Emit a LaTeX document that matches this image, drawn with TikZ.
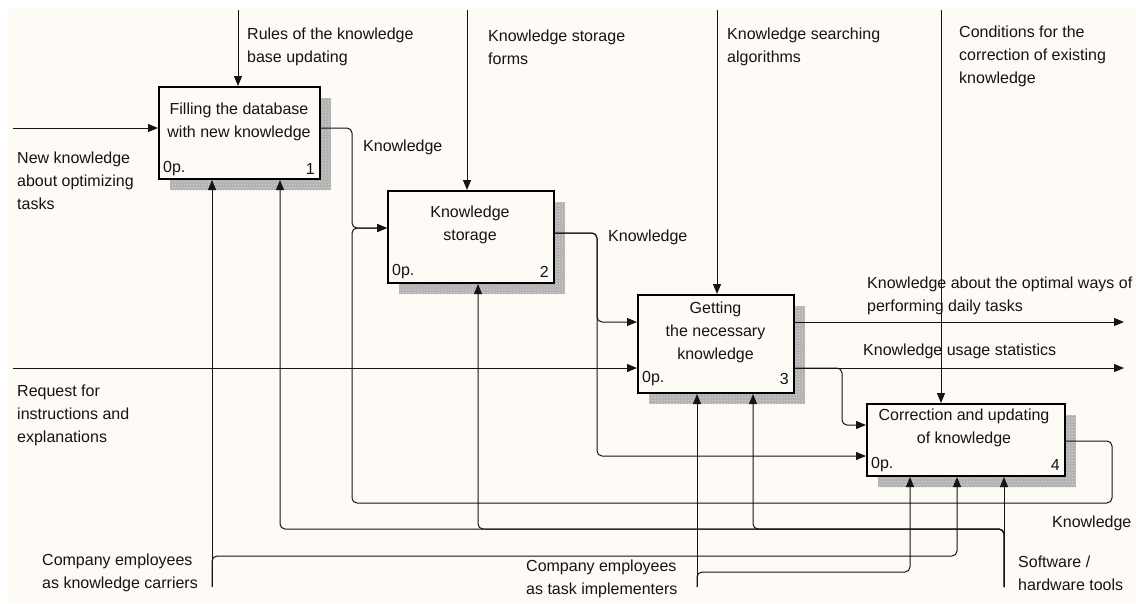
\documentclass[tikz,border=0pt]{standalone}
\usepackage{fontspec}
\setmainfont{Liberation Sans}
\usetikzlibrary{arrows.meta,patterns,backgrounds}
\definecolor{bg}{RGB}{254,251,246}
\definecolor{ink}{RGB}{20,20,20}
\begin{document}
\begin{tikzpicture}[x=1pt,y=-1pt,
  font=\fontsize{16}{23}\selectfont,
  box/.style={draw=black, line width=2pt, fill=bg, inner sep=0pt},
  shadebase/.style={fill=gray!62},
  shade/.style={pattern=crosshatch dots, pattern color=white!75!gray},
  conn/.style={draw=ink, line width=1pt, rounded corners=5pt},
  arr/.style={conn, -{Triangle[length=10pt,width=8pt]}},
  lbl/.style={anchor=west, align=left, inner sep=0pt, text=ink},
  ttl/.style={align=center, inner sep=0pt, text=ink},
  tag/.style={inner sep=0pt, text=ink}]
\useasboundingbox (0,0) rectangle (1136,603);

% ---------- boxes ----------
\node[box, minimum width=161pt, minimum height=92pt] (b1) at (239.5,133) {};
\node[box, minimum width=166pt, minimum height=92pt] (b2) at (471,237) {};
\node[box, minimum width=156pt, minimum height=98pt] (b3) at (716,344) {};
\node[box, minimum width=198pt, minimum height=72pt] (b4) at (966,440) {};

\begin{scope}[on background layer]
  \fill[white] (0,0) rectangle (1136,603);
  \fill[bg] (7,9) rectangle (1136,603);
  \foreach \a/\b/\c/\d in {170/98/331/190, 399/202/565/294, 649/306/805/404, 878/415/1076/487}{
    \fill[shadebase] (\a,\b) rectangle (\c,\d);
    \fill[shade] (\a,\b) rectangle (\c,\d);
  }
\end{scope}

% box texts
\node[ttl] (t1) at (239,121.5) {Filling the database\\with new knowledge};
\node[tag, anchor=west] (p1) at (163,169) {0p.};
\node[tag, anchor=east] (n1) at (315,169) {1};
\node[ttl] (t2) at (470,225) {Knowledge\\storage};
\node[tag, anchor=west] (p2) at (392,272) {0p.};
\node[tag, anchor=east] (n2) at (549,272) {2};
\node[ttl] (t3) at (715.5,332) {Getting\\the necessary\\knowledge};
\node[tag, anchor=west] (p3) at (642,379) {0p.};
\node[tag, anchor=east] (n3) at (789,379) {3};
\node[ttl] (t4) at (964,427.5) {Correction and updating\\of knowledge};
\node[tag, anchor=west] (p4) at (871,465) {0p.};
\node[tag, anchor=east] (n4) at (1060,465) {4};

% ---------- free ends ----------
\coordinate (c1) at (238,10);
\coordinate (c2) at (467,10);
\coordinate (c3) at (717,10);
\coordinate (c4) at (941,10);
\coordinate (i1) at (13,128);
\coordinate (i2) at (13,368);
\coordinate (o1) at (1124,322);
\coordinate (o2) at (1124,368);
\coordinate (m1) at (212,587);
\coordinate (m2) at (697,587);
\coordinate (m3) at (1004,587);

% controls
\draw[arr] (c1) -- (c1 |- b1.north);
\draw[arr] (c2) -- (c2 |- b2.north);
\draw[arr] (c3) -- (c3 |- b3.north);
\draw[arr] (c4) -- (c4 |- b4.north);

% inputs
\draw[arr] (i1) -- (i1 -| b1.west);
\draw[arr] (i2) -- (i2 -| b3.west);

% box 1 -> box 2
\draw[arr] (b1.east |- 0,128) -- (352,128) -- (352,228) -- (b2.west |- 0,228);
% feedback box 4 -> box 2
\draw[arr] (b4.east |- 0,441) -- (1112,441) -- (1112,503) -- (352,503) -- (352,228) -- (b2.west |- 0,228);
% box 2 -> box 3 and box 4
\draw[arr] (b2.east |- 0,233) -- (597,233) -- (597,322) -- (b3.west |- 0,322);
\draw[arr] (b2.east |- 0,233) -- (597,233) -- (597,456) -- (b4.west |- 0,456);
% box 3 outputs
\draw[arr] (b3.east |- o1) -- (o1);
\draw[arr] (b3.east |- o2) -- (o2);
\draw[arr] (b3.east |- 0,368) -- (842,368) -- (842,425) -- (b4.west |- 0,425);

% mechanisms
\draw[arr] (m1) -- (m1 |- b1.south);
\draw[arr] (m1) -- (212,556) -- (957,556) -- (957,490) -- (957,0 |- b4.south);
\draw[arr] (m2) -- (m2 |- b3.south);
\draw[arr] (m2) -- (697,572) -- (910,572) -- (910,490) -- (910,0 |- b4.south);
\draw[arr] (m3) -- (m3 |- b4.south);
\draw[arr] (m3) -- (1004,529) -- (280,529) -- (280,300) -- (280,0 |- b1.south);
\draw[arr] (m3) -- (1004,529) -- (478,529) -- (478,400) -- (478,0 |- b2.south);
\draw[arr] (m3) -- (1004,529) -- (753,529) -- (753,450) -- (753,0 |- b3.south);

% ---------- labels ----------
\node[lbl] (l1) at (247,47) {Rules of the knowledge\\base updating};
\node[lbl] (l2) at (488,47) {Knowledge storage\\forms};
\node[lbl] (l3) at (727,47) {Knowledge searching\\algorithms};
\node[lbl] (l4) at (959,56) {Conditions for the\\correction of existing\\knowledge};
\node[lbl] (l5) at (363,147) {Knowledge};
\node[lbl] (l6) at (608,237) {Knowledge};
\node[lbl] (l7) at (867,295.5) {Knowledge about the optimal ways of\\performing daily tasks};
\node[lbl] (l8) at (863,351) {Knowledge usage statistics};
\node[lbl] (l9) at (17,181) {New knowledge\\about optimizing\\tasks};
\node[lbl] (l10) at (17,415) {Request for\\instructions and\\explanations};
\node[lbl] (l11) at (42,572.5) {Company employees\\as knowledge carriers};
\node[lbl] (l12) at (526,578.5) {Company employees\\as task implementers};
\node[lbl] (l13) at (1018,573.5) {Software /\\hardware tools};
\node[lbl] (l14) at (1052,523) {Knowledge};
\end{tikzpicture}
\end{document}
